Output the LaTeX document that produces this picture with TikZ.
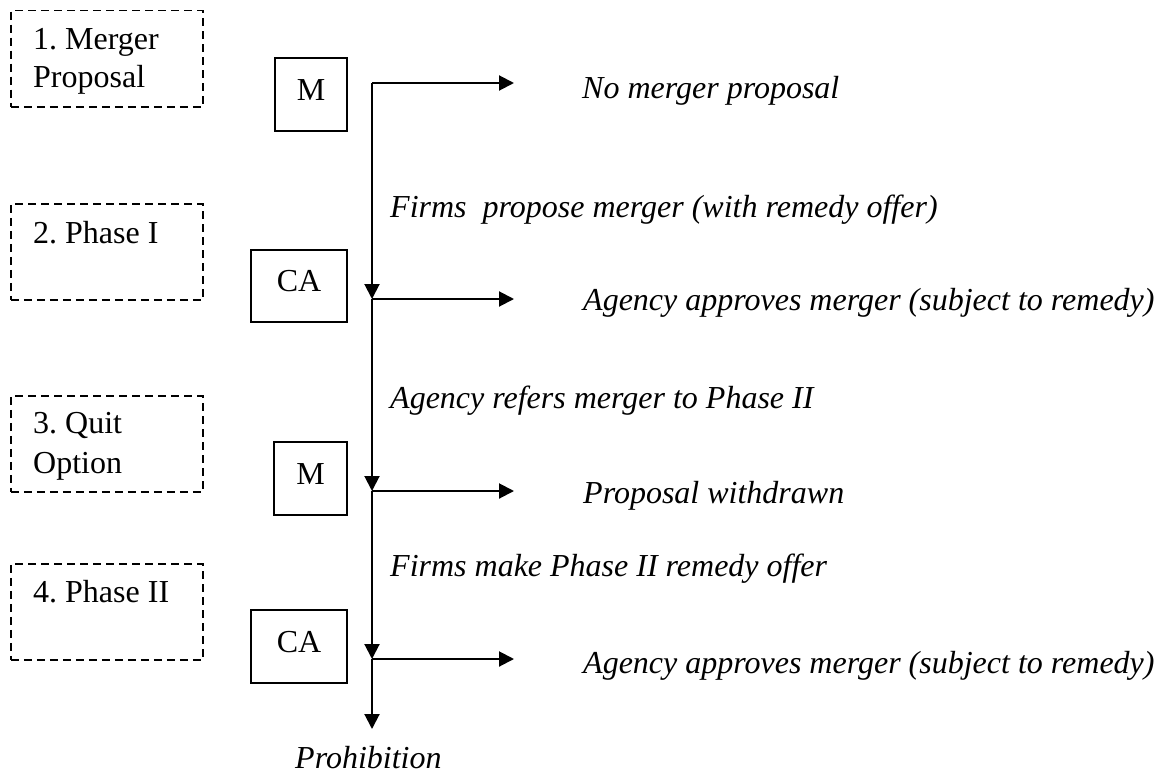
\documentclass[tikz,border=0pt]{standalone}
\usepackage{fontspec}
\setmainfont{Liberation Serif}
\usetikzlibrary{arrows.meta}
\frenchspacing

\tikzset{
  txt/.style={font=\fontsize{32}{38}\selectfont, inner sep=0pt, anchor=base west},
  itxt/.style={txt, font=\fontsize{32}{38}\selectfont\itshape},
  stagebox/.style={draw, line width=1.5pt, dash pattern=on 8pt off 5pt,
    minimum width=192pt, minimum height=96pt, anchor=north west, inner sep=0pt},
  player/.style={draw, line width=1.5pt, inner sep=0pt,
    font=\fontsize{32}{38}\selectfont, text height=21pt, text depth=10pt},
  flow/.style={line width=2pt, -{Triangle[length=15pt,width=15pt]}},
  trunk/.style={line width=2pt}
}

\begin{document}
\begin{tikzpicture}[x=1pt, y=-1pt]
\useasboundingbox (0,0) rectangle (1172,776);

% stage boxes on the left
\node[stagebox] (st1) at (10,10) {};
\node[txt] (st1a) at (33,50) {1. Merger};
\node[txt] (st1b) at (33,88) {Proposal};

\node[stagebox] (st2) at (10,203) {};
\node[txt] (st2a) at (33,243) {2. Phase I};

\node[stagebox] (st3) at (10,395) {};
\node[txt] (st3a) at (33,433) {3. Quit};
\node[txt] (st3b) at (33,473) {Option};

\node[stagebox] (st4) at (10,563) {};
\node[txt] (st4a) at (33,602) {4. Phase II};

% players who move at each stage
\node[player, minimum width=72pt, minimum height=73pt] (m1) at (311,94.5) {M};
\node[player, minimum width=96pt, minimum height=72pt] (ca1) at (299,286) {CA};
\node[player, minimum width=73pt, minimum height=73pt] (m2) at (310.5,478.5) {M};
\node[player, minimum width=96pt, minimum height=73pt] (ca2) at (299,646.5) {CA};

% junctions on the main line and the ends of the side branches
\coordinate (j0) at (372,83);
\coordinate (j1) at (372,299);
\coordinate (j2) at (372,491);
\coordinate (j3) at (372,659);
\coordinate (jend) at (372,729);
\coordinate (e0) at (514,83);
\coordinate (e1) at (514,299);
\coordinate (e2) at (514,491);
\coordinate (e3) at (514,659);

% main line
\draw[flow] (j0) -- (j1);
\draw[flow] (j1) -- (j2);
\draw[flow] (j2) -- (j3);
\draw[flow] (j3) -- (jend);

% side branches
\draw[flow] (j0) -- (e0);
\draw[flow] (j1) -- (e1);
\draw[flow] (j2) -- (e2);
\draw[flow] (j3) -- (e3);

% outcomes and moves
\node[itxt] (o0) at (582,98) {No merger proposal};
\node[itxt] (a1) at (390,217) {Firms\ \ propose merger (with remedy offer)};
\node[itxt] (o1) at (583,310) {Agency approves merger (subject to remedy)};
\node[itxt] (a2) at (390,408) {Agency refers merger to Phase II};
\node[itxt] (o2) at (583,503) {Proposal withdrawn};
\node[itxt] (a3) at (390,576) {Firms make Phase II remedy offer};
\node[itxt] (o3) at (583,673) {Agency approves merger (subject to remedy)};
\node[itxt] (o4) at (295,768) {Prohibition};
\end{tikzpicture}
\end{document}
